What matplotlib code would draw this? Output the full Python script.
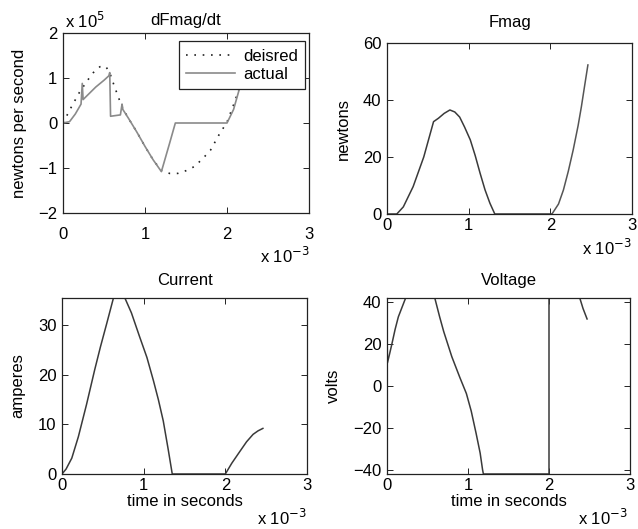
import matplotlib
matplotlib.use("Agg")
import matplotlib.pyplot as plt
import numpy as np

plt.rcParams['font.family'] = ['Liberation Sans', 'DejaVu Sans']

# ---------------- data (time in ms) ----------------
# dFmag/dt (units of 1e5 N/s)
dF_des_t = [0, 0.1, 0.2, 0.3, 0.37, 0.45, 0.52, 0.57, 0.62, 0.68, 0.73, 0.8, 0.9, 1.0, 1.1, 1.2,
            1.3, 1.4, 1.5, 1.6, 1.7, 1.8, 1.9, 2.0, 2.1, 2.2]
dF_des_v = [0, 0.35, 0.68, 0.95, 1.12, 1.25, 1.26, 1.12, 0.85, 0.55, 0.32, 0.1, -0.2, -0.52, -0.82, -1.06,
            -1.12, -1.12, -1.06, -0.97, -0.8, -0.6, -0.27, 0.02, 0.5, 1.1]
dF_act_t = [0, 0.08, 0.15, 0.22, 0.235, 0.245, 0.3, 0.4, 0.5, 0.56, 0.57, 0.58, 0.7, 0.72, 0.73,
            0.8, 0.9, 1.0, 1.1, 1.2, 1.3, 1.37, 2.0, 2.08, 2.15, 2.2]
dF_act_v = [0, 0.03, 0.2, 0.42, 0.88, 0.52, 0.62, 0.8, 0.95, 1.05, 1.12, 0.15, 0.18, 0.42, 0.3,
            0.1, -0.2, -0.52, -0.82, -1.08, -0.45, 0.0, 0.0, 0.3, 0.75, 1.15]

# Fmag (N)
F_t1 = [0, 0.12, 0.2, 0.32, 0.45, 0.57, 0.63, 0.7, 0.77, 0.83, 0.89, 0.95, 1.02, 1.08, 1.14, 1.2, 1.26, 1.32, 2.02]
F_v1 = [0, 0, 2.5, 9.6, 20, 32.4, 33.6, 35.3, 36.5, 35.8, 34, 30.5, 26, 20.5, 14.3, 8.5, 3.8, 0, 0]
F_t2 = [2.02, 2.1, 2.16, 2.22, 2.28, 2.34, 2.38, 2.42, 2.46]
F_v2 = [0, 3.5, 8.4, 15, 22.5, 31, 37.6, 45, 52.3]

# Current (A)
I_t = [0, 0.05, 0.12, 0.2, 0.3, 0.4, 0.47, 0.55, 0.63, 0.77, 0.85, 0.95, 1.04, 1.12, 1.18, 1.24, 1.3, 1.35,
       2.0, 2.08, 2.18, 2.26, 2.34, 2.4, 2.46]
I_v = [0, 1, 3.2, 7.5, 14, 21, 25.6, 30.5, 35.5, 35.5, 32.5, 27.7, 23.5, 18.8, 15, 10.7, 5, 0,
       0, 2.2, 4.6, 6.5, 8, 8.7, 9.2]

# Voltage (V)
V_t = [0, 0.005, 0.03, 0.06, 0.1, 0.14, 0.19, 0.23, 0.59, 0.65, 0.7, 0.8, 0.9, 0.98, 1.04, 1.1, 1.15,
       1.18, 1.19, 2.0, 2.0, 2.38, 2.42, 2.47]
V_v = [30, 11, 15, 20, 27, 33, 38, 42, 42, 33, 26, 14, 4, -3.6, -12, -22.6, -32,
       -40, -42, -42, 42, 42, 37, 32]

xticks = [0, 1, 2, 3]

# ---------------- figure ----------------
W, H = 638, 529
fig = plt.figure(figsize=(W / 100, H / 100), dpi=100)

def rect(l, r, t, b):
    return [l / W, 1 - b / H, (r - l) / W, (b - t) / H]

ax1 = fig.add_axes(rect(63, 309, 33, 213))
ax2 = fig.add_axes(rect(387, 632, 43, 214))
ax3 = fig.add_axes(rect(62, 307, 298, 474))
ax4 = fig.add_axes(rect(387, 630, 298, 474))

FS = 12
lc = '#3a3a3a'

for ax in (ax1, ax2, ax3, ax4):
    ax.set_xlim(0, 3)
    ax.set_xticks(xticks)
    ax.tick_params(direction='in', top=True, right=True, length=4, width=0.6,
                   labelsize=FS, pad=4)
    for s in ax.spines.values():
        s.set_linewidth(0.9)
        s.set_color('#222222')
ax1.tick_params(axis='x', pad=10)
for ax in (ax2, ax3, ax4):
    ax.tick_params(axis='x', pad=3)

# dFmag/dt
ax1.plot(dF_des_t, dF_des_v, linestyle=(0, (1, 4)), color='#222222', lw=1.2, label='deisred')
ax1.plot(dF_act_t, dF_act_v, color='#8a8a8a', lw=1.2, label='actual')
ax1.set_ylim(-2, 2)
ax1.set_yticks([-2, -1, 0, 1, 2])
ax1.set_title('dFmag/dt', fontsize=FS, pad=5.8)
ax1.set_ylabel('newtons per second', fontsize=FS)
ax1.yaxis.set_label_coords(-0.146, 0.5)
ax1.text(0.01, 1.028, r'x 10$^{5}$', transform=ax1.transAxes, fontsize=FS, ha='left', va='baseline')
ax1.text(1.004, -0.278, r'x 10$^{-3}$', transform=ax1.transAxes, fontsize=FS, ha='right', va='baseline')
leg = ax1.legend(loc='upper right', bbox_to_anchor=(0.985, 0.955), borderaxespad=0,
                 fontsize=FS, frameon=True, fancybox=False, handlelength=2.9,
                 borderpad=0.45, labelspacing=0.2, handletextpad=0.5)
leg.get_frame().set_edgecolor('#222222')
leg.get_frame().set_linewidth(0.9)
leg.get_frame().set_alpha(1)

# Fmag
ax2.plot(F_t1, F_v1, color=lc, lw=1.1)
ax2.plot(F_t2, F_v2, color='#555555', lw=1.1)
ax2.set_ylim(0, 60)
ax2.set_yticks([0, 20, 40, 60])
ax2.set_title('Fmag', fontsize=FS, pad=11.5)
ax2.set_ylabel('newtons', fontsize=FS)
ax2.yaxis.set_label_coords(-0.147, 0.5)
ax2.text(1.0, -0.24, r'x 10$^{-3}$', transform=ax2.transAxes, fontsize=FS, ha='right', va='baseline')

# Current
ax3.plot(I_t, I_v, color=lc, lw=1.1)
ax3.set_ylim(0, 35.5)
ax3.set_yticks([0, 10, 20, 30])
ax3.set_title('Current', fontsize=FS, pad=9.4)
ax3.set_ylabel('amperes', fontsize=FS)
ax3.yaxis.set_label_coords(-0.151, 0.5)
ax3.set_xlabel('time in seconds', fontsize=FS)
ax3.xaxis.set_label_coords(0.5, -0.115)
ax3.text(1.0, -0.29, r'x 10$^{-3}$', transform=ax3.transAxes, fontsize=FS, ha='right', va='baseline')

# Voltage
ax4.plot(V_t, V_v, color=lc, lw=1.1)
ax4.set_ylim(-42, 42)
ax4.set_yticks([-40, -20, 0, 20, 40])
ax4.set_title('Voltage', fontsize=FS, pad=9.4)
ax4.set_ylabel('volts', fontsize=FS)
ax4.yaxis.set_label_coords(-0.19, 0.5)
ax4.set_xlabel('time in seconds', fontsize=FS)
ax4.xaxis.set_label_coords(0.5, -0.115)
ax4.text(0.99, -0.29, r'x 10$^{-3}$', transform=ax4.transAxes, fontsize=FS, ha='right', va='baseline')

fig.savefig('out.png', dpi=100)
